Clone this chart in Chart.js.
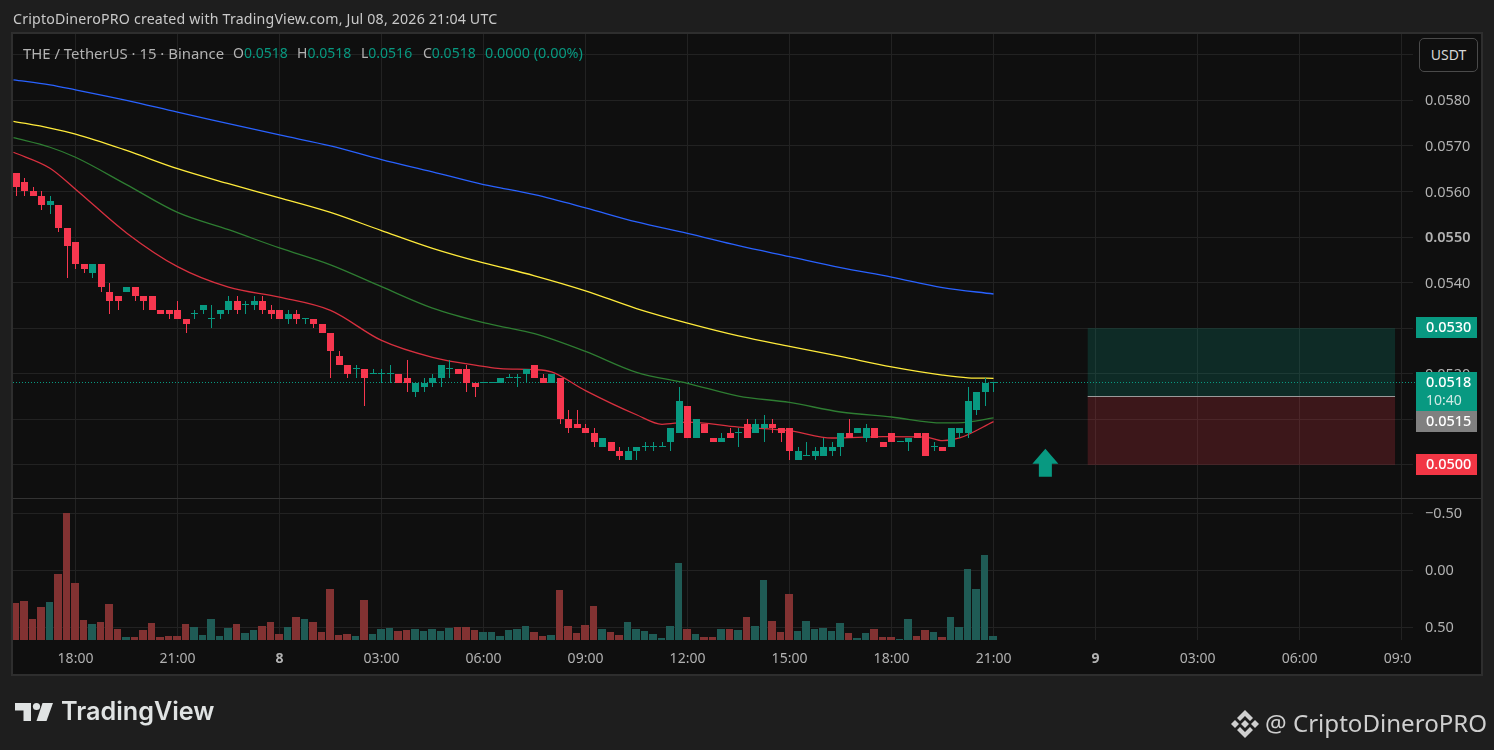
<!DOCTYPE html>
<html lang="en">
<head>
    <meta charset="UTF-8">
    <title>THE / TetherUS 15m</title>
    <script src="https://cdn.jsdelivr.net/npm/chart.js"></script>
    <style>
        html, body { margin: 0; width: 1494px; height: 750px; overflow: hidden; background: #1e1e1e; }
        canvas { position: absolute; left: 0; top: 0; }
        .txt { position: absolute; white-space: pre; font-family: "Noto Sans", sans-serif; color: #b2b2b2; line-height: 1; }
        .g { color: #089981; }
        #usdt { position: absolute; left: 1419px; top: 38px; width: 57px; height: 32px; border: 1px solid #4a4a4a; border-radius: 5px;
                background: #0f0f0f; color: #d6d6d6; font: 14px "Noto Sans", sans-serif; line-height: 32px; text-align: center; }
    </style>
</head>
<body>
    <canvas id="chart" width="1494" height="750"></canvas>

    <div class="txt" style="left:13px;top:12px;font-size:14.2px;letter-spacing:.18px;color:#c9c9c9">CriptoDineroPRO created with TradingView.com, Jul 08, 2026 21:04 UTC</div>
    <div class="txt" style="left:23px;top:46px;font-size:14.9px">THE / TetherUS · 15 · Binance</div>
    <div class="txt" style="left:233px;top:46px;font-size:14px">O<span class="g">0.0518</span></div>
    <div class="txt" style="left:297px;top:46px;font-size:14px">H<span class="g">0.0518</span></div>
    <div class="txt" style="left:361px;top:46px;font-size:14px">L<span class="g">0.0516</span></div>
    <div class="txt" style="left:423px;top:46px;font-size:14px">C<span class="g">0.0518</span></div>
    <div class="txt g" style="left:485px;top:46px;font-size:14.4px">0.0000 (0.00%)</div>
    <div id="usdt">USDT</div>

    <!-- footer logos -->
    <svg style="position:absolute;left:0;top:690px" width="60" height="40" fill="#e0e3e3">
        <polygon points="15,13 31,13 31,31 23.5,31 23.5,20.5 15,20.5"/>
        <circle cx="36.5" cy="16.5" r="3.6"/>
        <polygon points="42.5,13 53,13 46.5,31 36.5,31"/>
    </svg>
    <div class="txt" style="left:61px;top:699px;font-family:Inter,sans-serif;font-weight:600;font-size:25.2px;color:#e0e3e3">TradingView</div>
    <svg style="position:absolute;left:1230px;top:708px" width="30" height="32" fill="#cfcfcf">
        <polygon points="15,2 23,10 20,13 15,8 10,13 7,10"/>
        <polygon points="15,30 23,22 20,19 15,24 10,19 7,22"/>
        <polygon points="15,12 19,16 15,20 11,16"/>
        <polygon points="5,12 9,16 5,20 1,16"/>
        <polygon points="25,12 29,16 25,20 21,16"/>
    </svg>
    <div class="txt" style="left:1265px;top:711px;font-size:24.1px;color:#cfcfcf">@ CriptoDineroPRO</div>

    <script>
        // OHLC of the 15 minute candles, first bar is 16:15 on Jul 7
        const opens = [
            .0564,.0562,.0560,.0559,.0557,.0557,.0552,.0549,.0544,.0542,.0544,.0538,.0537,.0538,.0539,.0537,.0537,.0534,.0534,.0534,
            .0532,.0533,.0534,.0532,.0533,.0534,.0536,.0535,.0535,.0536,.0534,.0534,.0532,.0533,.0532,.0532,.0531,.0529,.0524,.0522,
            .0521,.0521,.0520,.0520,.0520,.0520,.0519,.0516,.0517,.0518,.0519,.0521,.0521,.0521,.0518,.0518,.0518,.0518,.0519,.0519,
            .0520,.0522,.0519,.0518,.0519,.0510,.0509,.0508,.0507,.0504,.0505,.0503,.0501,.0503,.0504,.0504,.0504,.0505,.0507,.0513,
            .0506,.0509,.0506,.0505,.0507,.0507,.0509,.0507,.0508,.0509,.0508,.0508,.0501,.0502,.0502,.0502,.0503,.0504,.0507,.0507,
            .0506,.0508,.0505,.0507,.0505,.0505,.0507,.0507,.0504,.0504,.0504,.0507,.0507,.0512,.0516,.0518
        ];
        const highs = [
            .0564,.0563,.0561,.0560,.0559,.0557,.0552,.0549,.0544,.0544,.0544,.0540,.0537,.0539,.0539,.0537,.0537,.0534,.0534,.0536,
            .0532,.0534,.0535,.0535,.0534,.0537,.0537,.0536,.0537,.0537,.0535,.0534,.0534,.0534,.0532,.0532,.0531,.0529,.0525,.0522,
            .0522,.0521,.0521,.0521,.0522,.0520,.0523,.0518,.0519,.0520,.0522,.0523,.0521,.0522,.0518,.0518,.0518,.0519,.0520,.0520,
            .0521,.0522,.0520,.0520,.0519,.0512,.0512,.0509,.0508,.0506,.0505,.0504,.0504,.0504,.0505,.0505,.0505,.0508,.0517,.0513,
            .0510,.0509,.0506,.0507,.0508,.0508,.0510,.0510,.0511,.0510,.0508,.0508,.0504,.0505,.0504,.0506,.0505,.0507,.0510,.0508,
            .0509,.0508,.0505,.0507,.0505,.0506,.0507,.0507,.0505,.0504,.0508,.0508,.0517,.0516,.0519,.0518
        ];
        const lows = [
            .0559,.0559,.0559,.0556,.0555,.0551,.0541,.0543,.0542,.0541,.0538,.0533,.0534,.0538,.0536,.0534,.0534,.0533,.0532,.0532,
            .0529,.0532,.0533,.0530,.0532,.0533,.0533,.0533,.0534,.0533,.0532,.0532,.0531,.0531,.0531,.0530,.0529,.0519,.0522,.0519,
            .0519,.0513,.0520,.0518,.0518,.0518,.0516,.0515,.0516,.0517,.0517,.0519,.0520,.0516,.0515,.0518,.0518,.0518,.0519,.0517,
            .0518,.0519,.0518,.0518,.0509,.0507,.0508,.0507,.0504,.0504,.0503,.0501,.0501,.0501,.0503,.0503,.0504,.0503,.0507,.0506,
            .0506,.0507,.0505,.0505,.0506,.0504,.0506,.0507,.0505,.0507,.0505,.0501,.0501,.0502,.0501,.0502,.0502,.0502,.0506,.0507,
            .0505,.0506,.0504,.0505,.0505,.0503,.0506,.0502,.0503,.0503,.0504,.0506,.0506,.0511,.0513,.0516
        ];
        const closes = [
            .0561,.0560,.0559,.0557,.0558,.0552,.0548,.0544,.0543,.0544,.0539,.0536,.0536,.0539,.0537,.0536,.0534,.0533,.0533,.0532,
            .0531,.0533,.0535,.0532,.0534,.0536,.0534,.0535,.0536,.0534,.0533,.0532,.0533,.0532,.0532,.0531,.0529,.0525,.0522,.0520,
            .0521,.0519,.0520,.0520,.0520,.0518,.0518,.0518,.0518,.0519,.0522,.0521,.0520,.0518,.0517,.0518,.0518,.0519,.0519,.0519,
            .0521,.0519,.0518,.0520,.0510,.0508,.0508,.0507,.0505,.0506,.0503,.0502,.0503,.0504,.0504,.0504,.0504,.0508,.0514,.0506,
            .0510,.0507,.0505,.0506,.0506,.0507,.0506,.0509,.0509,.0508,.0507,.0503,.0503,.0502,.0503,.0504,.0504,.0507,.0506,.0508,
            .0508,.0506,.0504,.0505,.0505,.0506,.0506,.0502,.0504,.0503,.0508,.0508,.0514,.0516,.0518,.0518
        ];
        // volume, no scale shown on the chart so this is just relative height
        const volumes = [
            111,117,63,99,114,198,381,171,60,48,54,108,33,9,9,30,51,9,12,12,
            48,39,15,63,12,36,48,21,30,42,54,18,39,69,63,54,24,153,15,18,
            12,120,18,33,36,27,30,33,27,33,27,36,39,39,30,24,24,12,30,33,
            42,24,12,15,150,42,21,45,102,33,24,15,54,33,27,18,6,42,231,33,
            18,9,9,33,33,30,69,42,180,57,24,138,27,57,33,36,27,51,21,6,
            21,33,9,9,3,63,12,30,24,9,69,39,213,153,255,12
        ];

        // moving averages, read at every 6th bar or so
        const maBars = [-0.3,4,7,13,19,25,31,37,43,49,55,57,61,67,73,79,85,91,97,103,109,115];
        const blueMa = [.05845,.05834,.05823,.05800,.05774,.05749,.05724,.05700,.05670,.05643,.05615,.05608,.05593,.05564,.05533,.05508,.05481,.05457,.05433,.05412,.05389,.05375];
        const slowBars = [-0.3,4,7,13,19,25,31,37,43,49,55,57,61,67,73,79,85,91,97,103,109,112,115];
        const yellowMa = [.05754,.05739,.05726,.05690,.05650,.05617,.05586,.05554,.05514,.05475,.05443,.05434,.05415,.05382,.05343,.05311,.05283,.05260,.05238,.05215,.05197,.05191,.05190];
        const greenMa = [.05718,.05697,.05675,.05615,.05554,.05516,.05476,.05439,.05391,.05344,.05312,.05304,.05288,.05249,.05203,.05179,.05151,.05137,.05116,.05105,.05092,.05094,.05103];
        const redBars = [-0.3,4,7,13,19,25,31,37,43,49,55,57,61,63,67,73,76,79,85,91,96,102,107,109,111,115];
        const redMa = [.05686,.05651,.05605,.05509,.05435,.05390,.05368,.05339,.05273,.05236,.05216,.05211,.05209,.05204,.05163,.05110,.05089,.05094,.05083,.05075,.05059,.05062,.05061,.05053,.05059,.05095];

        // axes
        const timeTicks = [7,19,31,43,55,67,79,91,103,115,127,139,151,163];
        const timeLabels = ['18:00','21:00','8','03:00','06:00','09:00','12:00','15:00','18:00','21:00','9','03:00','06:00','09:00'];
        const priceTicks = [.05,.051,.052,.053,.054,.055,.056,.057,.058,.059];
        const volumeTicks = [39,210,381];
        const volumeLabels = ['0.50','0.00','\u22120.50'];

        // long position drawing
        const entryPrice = .0515, targetPrice = .0530, stopPrice = .0500;
        const positionBars = [126.08, 162.24];
        const arrowBar = 121.1;

        const UP = '#089981', DOWN = '#f7374f';
        const FONT = '"Noto Sans", sans-serif';
        const isUp = i => closes[i] >= opens[i];

        const points = (xs, ys) => xs.map((x, i) => ({ x: x, y: ys[i] }));

        // pane background and frame
        const framePlugin = {
            id: 'frame',
            beforeDraw(chart) {
                const c = chart.ctx;
                c.fillStyle = '#0f0f0f';
                c.fillRect(13, 34, 1468, 640);
            },
            afterDraw(chart) {
                const c = chart.ctx;
                c.fillStyle = '#0f0f0f';
                c.fillRect(1412, 641, 68, 32); // time labels run under the price axis
                c.strokeStyle = '#2e2e2e';
                c.lineWidth = 2;
                c.strokeRect(12, 33, 1470, 642);
                c.strokeStyle = '#333333';
                c.lineWidth = 1;
                c.beginPath();
                c.moveTo(13, 498.5);
                c.lineTo(1481, 498.5);
                c.stroke();
            }
        };

        // pixel snap the bars the way the original renders them
        const snapPlugin = {
            id: 'snap',
            afterDatasetsUpdate(chart) {
                chart.data.datasets.forEach((ds, d) => {
                    if (ds.type !== 'bar') return;
                    chart.getDatasetMeta(d).data.forEach((el, i) => {
                        if (ds.yAxisID === 'vol') {
                            el.x -= 0.5;
                            el.width = i % 2 ? 8 : 7;
                        } else {
                            el.x = Math.floor(el.x) + 0.5;
                        }
                        el.y = Math.round(el.y);
                        el.base = Math.round(el.base);
                    });
                });
                // axis labels sit a pixel lower than the centred default
                [chart.scales.y, chart.scales.vol].forEach(s => {
                    s.getLabelItems().forEach(item => { item.options.translation[1] += 1; });
                });
            }
        };

        // position boxes, last price line and arrow
        const drawingsPlugin = {
            id: 'drawings',
            beforeDatasetsDraw(chart) {
                const c = chart.ctx, x = chart.scales.x, y = chart.scales.y;
                const left = x.getPixelForValue(positionBars[0]), right = x.getPixelForValue(positionBars[1]);
                const top = y.getPixelForValue(targetPrice), mid = y.getPixelForValue(entryPrice), bottom = y.getPixelForValue(stopPrice);
                c.fillStyle = 'rgba(8,153,129,0.2)';
                c.fillRect(left, top, right - left, mid - top);
                c.fillStyle = 'rgba(242,54,69,0.2)';
                c.fillRect(left, mid, right - left, bottom - mid);
                c.strokeStyle = '#9a9a9a';
                c.beginPath();
                c.moveTo(left, Math.floor(mid) + 0.5);
                c.lineTo(right, Math.floor(mid) + 0.5);
                c.stroke();

                const lastY = Math.floor(y.getPixelForValue(closes[closes.length - 1])) + 0.5;
                c.save();
                c.strokeStyle = UP;
                c.setLineDash([1, 2]);
                c.beginPath();
                c.moveTo(13, lastY);
                c.lineTo(1416, lastY);
                c.stroke();
                c.restore();

                const ax = x.getPixelForValue(arrowBar), ay = bottom - 1;
                c.fillStyle = UP;
                c.beginPath();
                c.moveTo(ax, ay - 15);
                c.lineTo(ax + 13, ay);
                c.lineTo(ax + 6.5, ay);
                c.lineTo(ax + 6.5, ay + 13);
                c.lineTo(ax - 6.5, ay + 13);
                c.lineTo(ax - 6.5, ay);
                c.lineTo(ax - 13, ay);
                c.closePath();
                c.fill();
            }
        };

        // coloured price tags on the axis
        const tagsPlugin = {
            id: 'tags',
            afterDraw(chart) {
                const c = chart.ctx, y = chart.scales.y;
                const tags = [
                    { price: targetPrice, bg: UP, lines: ['0.0530'] },
                    { price: closes[closes.length - 1], bg: UP, lines: ['0.0518', '10:40'] },
                    { price: entryPrice, bg: '#808080', lines: ['0.0515'] },
                    { price: stopPrice, bg: '#f23645', lines: ['0.0500'] }
                ];
                let prevBottom = 0;
                tags.forEach(t => {
                    const top = Math.max(prevBottom, Math.round(y.getPixelForValue(t.price)) - 11);
                    const h = t.lines.length > 1 ? 39 : 21;
                    c.fillStyle = t.bg;
                    c.fillRect(1416, top, 61, h);
                    c.font = '500 14.5px ' + FONT;
                    c.textBaseline = 'middle';
                    c.textAlign = 'left';
                    c.fillStyle = '#ffffff';
                    c.fillText(t.lines[0], 1426, top + 11);
                    if (t.lines[1]) {
                        c.font = '14px ' + FONT;
                        c.fillStyle = '#cfe9e4';
                        c.fillText(t.lines[1], 1426, top + 29);
                    }
                    prevBottom = top + h;
                });
            }
        };

        new Chart(document.getElementById('chart').getContext('2d'), {
            data: {
                datasets: [
                    { type: 'line', label: 'MA blue', data: points(maBars, blueMa), borderColor: '#2962ff', borderWidth: 1.3, pointRadius: 0, cubicInterpolationMode: 'monotone', yAxisID: 'y', order: 5 },
                    { type: 'line', label: 'MA yellow', data: points(slowBars, yellowMa), borderColor: '#ffeb3b', borderWidth: 1.3, pointRadius: 0, cubicInterpolationMode: 'monotone', yAxisID: 'y', order: 5 },
                    { type: 'line', label: 'MA green', data: points(slowBars, greenMa), borderColor: '#2e7d32', borderWidth: 1.3, pointRadius: 0, cubicInterpolationMode: 'monotone', yAxisID: 'y', order: 5 },
                    { type: 'line', label: 'MA red', data: points(redBars, redMa), borderColor: '#d8303f', borderWidth: 1.3, pointRadius: 0, cubicInterpolationMode: 'monotone', yAxisID: 'y', order: 5 },
                    {
                        type: 'bar', label: 'Volume', yAxisID: 'vol', grouped: false, order: 4,
                        data: volumes.map((v, i) => ({ x: i, y: v })),
                        backgroundColor: volumes.map((v, i) => isUp(i) ? '#1f5b55' : '#823232'),
                        barThickness: 7.5, inflateAmount: 0
                    },
                    {
                        type: 'bar', label: 'Wick', yAxisID: 'y', grouped: false, order: 2,
                        data: lows.map((l, i) => ({ x: i, y: [l, highs[i]] })),
                        backgroundColor: lows.map((l, i) => isUp(i) ? UP : DOWN),
                        barThickness: 1, inflateAmount: 0
                    },
                    {
                        type: 'bar', label: 'Body', yAxisID: 'y', grouped: false, order: 1,
                        data: opens.map((o, i) => ({ x: i, y: [Math.min(o, closes[i]), Math.max(o, closes[i])] })),
                        backgroundColor: opens.map((o, i) => isUp(i) ? UP : DOWN),
                        barThickness: 7, minBarLength: 1, inflateAmount: 0
                    }
                ]
            },
            options: {
                responsive: false,
                animation: false,
                events: [],
                layout: { padding: { left: 13, top: 34, right: 13, bottom: 76 } },
                plugins: { legend: { display: false }, tooltip: { enabled: false } },
                scales: {
                    x: {
                        type: 'linear',
                        offset: false,
                        min: -0.353,
                        max: 164.35,
                        afterBuildTicks(s) { s.ticks = timeTicks.map(v => ({ value: v })); },
                        afterFit(s) { s.height = 34; },
                        grid: { color: '#222222', drawTicks: false, offset: false },
                        border: { display: false },
                        ticks: {
                            autoSkip: false,
                            maxRotation: 0,
                            padding: 11,
                            color: '#b2b2b2',
                            font: ctx => ({ family: FONT, size: 14, weight: ctx.tick && ctx.tick.value % 96 === 31 ? 700 : 400 }),
                            callback: v => timeLabels[timeTicks.indexOf(v)]
                        }
                    },
                    y: {
                        position: 'right',
                        stack: 'panes',
                        stackWeight: 464,
                        min: 0.049273,
                        max: 0.059455,
                        afterBuildTicks(s) { s.ticks = priceTicks.map(v => ({ value: v })); },
                        afterFit(s) { s.width = 68; },
                        grid: { color: '#222222', drawTicks: false },
                        border: { display: false },
                        ticks: {
                            autoSkip: false,
                            padding: 12,
                            crossAlign: 'near',
                            color: '#b2b2b2',
                            font: ctx => ({ family: FONT, size: 14.5, weight: ctx.tick && ctx.tick.value === .055 ? 600 : 400 }),
                            callback: v => v > .0585 ? '' : v.toFixed(4)
                        }
                    },
                    vol: {
                        position: 'right',
                        stack: 'panes',
                        stackWeight: 142,
                        min: 0,
                        max: 426,
                        afterBuildTicks(s) { s.ticks = volumeTicks.map(v => ({ value: v })); },
                        afterFit(s) { s.width = 68; },
                        grid: { color: '#222222', drawTicks: false },
                        border: { display: false },
                        ticks: {
                            autoSkip: false,
                            padding: 12,
                            crossAlign: 'near',
                            color: '#b2b2b2',
                            font: { family: FONT, size: 14.5 },
                            callback: v => volumeLabels[volumeTicks.indexOf(v)]
                        }
                    }
                }
            },
            plugins: [framePlugin, snapPlugin, drawingsPlugin, tagsPlugin]
        });
    </script>
</body>
</html>
